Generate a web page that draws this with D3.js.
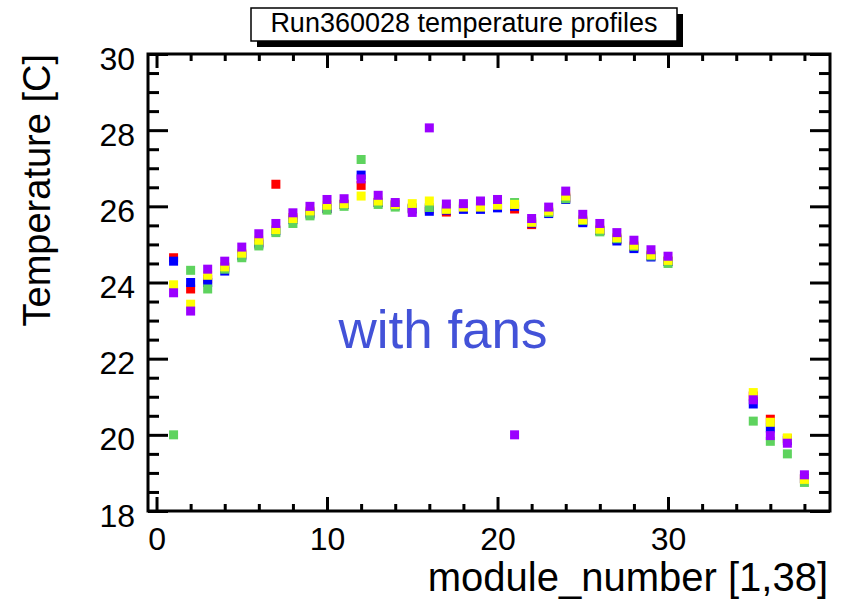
<!DOCTYPE html>
<html>
<head>
<meta charset="utf-8">
<script src="https://cdn.jsdelivr.net/npm/d3@7"></script>
<style>
  body { margin: 0; background: #fff; }
  text { font-family: "Liberation Sans", Arial, sans-serif; }
</style>
</head>
<body>
<div class="chart"></div>
<script>
// modules 31-34 have no readings
var modules = [1, 2, 3, 4, 5, 6, 7, 8, 9, 10, 11, 12, 13, 14, 15, 16, 17, 18, 19, 20,
    21, 22, 23, 24, 25, 26, 27, 28, 29, 30, 35, 36, 37, 38];

var redTemps = [24.65, 23.83, 24.09, 24.40, 24.74, 25.05, 26.58, 25.70, 25.85, 25.94,
    26.05, 26.55, 26.10, 26.05, 25.95, 25.93, 25.85, 25.95, 25.97, 26.00,
    25.93, 25.52, 25.85, 26.22, 25.60, 25.37, 25.13, 24.93, 24.70, 24.56,
    21.02, 20.41, 19.90, 18.85];
var blueTemps = [24.56, 24.00, 24.00, 24.30, 24.70, 25.01, 25.36, 25.65, 25.80, 25.94,
    26.05, 26.82, 26.10, 26.02, 25.93, 25.87, 25.90, 25.92, 25.92, 25.96,
    26.00, 25.56, 25.81, 26.18, 25.57, 25.36, 25.09, 24.89, 24.67, 24.55,
    20.81, 20.18, 19.85, 18.85];
var yellowTemps = [23.94, 23.43, 24.19, 24.41, 24.77, 25.11, 25.39, 25.68, 25.88, 26.03,
    26.07, 26.27, 26.14, 26.05, 26.07, 26.14, 25.92, 25.98, 25.98, 26.03,
    26.05, 25.58, 25.88, 26.27, 25.65, 25.40, 25.18, 24.98, 24.73, 24.58,
    21.11, 20.33, 19.92, 18.83];
var greenTemps = [20.00, 24.32, 23.83, 24.35, 24.65, 24.96, 25.31, 25.55, 25.75, 25.90,
    26.00, 27.23, 26.05, 25.98, 25.96, 25.97, 25.95, 26.00, 26.00, 26.05,
    26.10, 25.60, 25.84, 26.20, 25.63, 25.33, 25.15, 24.95, 24.70, 24.50,
    20.36, 19.83, 19.50, 18.75];
var purpleTemps = [23.73, 23.25, 24.35, 24.56, 24.93, 25.28, 25.55, 25.83, 26.00, 26.18,
    26.20, 26.72, 26.29, 26.10, 25.84, 28.06, 26.06, 26.07, 26.14, 26.18,
    20.00, 25.68, 25.98, 26.40, 25.79, 25.55, 25.31, 25.11, 24.86, 24.69,
    20.92, 19.98, 19.78, 18.95];

var xMajorTicks = [0, 10, 20, 30];
var yMajorTicks = [18, 20, 22, 24, 26, 28, 30];

var titleText = "Run360028 temperature profiles";
var xTitle = "module_number [1,38]";
var yTitle = "Temperature [C]";
var noteText = "with fans";

// drawing order: later series sit on top
var series = [
    { color: "#ff0000", values: redTemps },
    { color: "#0000ff", values: blueTemps },
    { color: "#5ed35e", values: greenTemps },
    { color: "#ffff00", values: yellowTemps },
    { color: "#9b00ff", values: purpleTemps }
];

var svgWidth = 843;
var svgHeight = 600;

var frame = { left: 148, right: 830, top: 54, bottom: 511 };

var svg = d3.select(".chart")
    .append("svg")
    .attr("width", svgWidth)
    .attr("height", svgHeight);

var x = d3.scaleLinear()
    .domain([-0.5, 39.5])
    .range([frame.left, frame.right]);

var y = d3.scaleLinear()
    .domain([18, 30])
    .range([frame.bottom, frame.top]);

// minor tick positions
var xMinor = d3.range(0, 39, 2).filter(d => xMajorTicks.indexOf(d) < 0);
var yMinor = d3.range(18, 30.01, 0.5).filter(d => yMajorTicks.indexOf(d) < 0);

function styleAxis(g) {
    g.select(".domain").remove();
    g.selectAll("line").attr("stroke", "#000").attr("stroke-width", 3);
    g.selectAll("text")
        .attr("fill", "#000")
        .style("font-size", "32px");
}

// bottom axis with labels
svg.append("g")
    .attr("transform", `translate(0,${frame.bottom})`)
    .call(d3.axisBottom(x).tickValues(xMajorTicks).tickSize(-14).tickPadding(16).tickFormat(d3.format("d")))
    .call(styleAxis);
svg.append("g")
    .attr("transform", `translate(0,${frame.bottom})`)
    .call(d3.axisBottom(x).tickValues(xMinor).tickSize(-7).tickFormat(""))
    .call(styleAxis);

// top axis, ticks only
svg.append("g")
    .attr("transform", `translate(0,${frame.top})`)
    .call(d3.axisTop(x).tickValues(xMajorTicks).tickSize(-14).tickFormat(""))
    .call(styleAxis);
svg.append("g")
    .attr("transform", `translate(0,${frame.top})`)
    .call(d3.axisTop(x).tickValues(xMinor).tickSize(-7).tickFormat(""))
    .call(styleAxis);

// left axis with labels
var leftAxis = svg.append("g")
    .attr("transform", `translate(${frame.left},0)`)
    .call(d3.axisLeft(y).tickValues(yMajorTicks).tickSize(-20).tickPadding(13).tickFormat(d3.format("d")))
    .call(styleAxis);
leftAxis.selectAll("text").attr("dy", "0.47em");
svg.append("g")
    .attr("transform", `translate(${frame.left},0)`)
    .call(d3.axisLeft(y).tickValues(yMinor).tickSize(-11).tickFormat(""))
    .call(styleAxis);

// right axis, ticks only
svg.append("g")
    .attr("transform", `translate(${frame.right},0)`)
    .call(d3.axisRight(y).tickValues(yMajorTicks).tickSize(-20).tickFormat(""))
    .call(styleAxis);
svg.append("g")
    .attr("transform", `translate(${frame.right},0)`)
    .call(d3.axisRight(y).tickValues(yMinor).tickSize(-11).tickFormat(""))
    .call(styleAxis);

// frame
svg.append("rect")
    .attr("x", frame.left)
    .attr("y", frame.top)
    .attr("width", frame.right - frame.left)
    .attr("height", frame.bottom - frame.top)
    .attr("fill", "none")
    .attr("stroke", "#000")
    .attr("stroke-width", 3);

// markers, one group per series
var markerSize = 9;
series.forEach(function (s) {
    svg.append("g")
        .selectAll("rect")
        .data(modules.map((m, i) => ({ m: m, v: s.values[i] })))
        .enter()
        .append("rect")
        .attr("x", d => x(d.m) - markerSize / 2)
        .attr("y", d => y(d.v) - markerSize / 2)
        .attr("width", markerSize)
        .attr("height", markerSize)
        .attr("fill", s.color);
});

// axis titles
svg.append("text")
    .attr("x", 828)
    .attr("y", 591)
    .attr("text-anchor", "end")
    .style("font-size", "40px")
    .text(xTitle);

svg.append("text")
    .attr("transform", "translate(50,54) rotate(-90)")
    .attr("text-anchor", "end")
    .style("font-size", "38px")
    .text(yTitle);

// note inside the frame
svg.append("text")
    .attr("x", 443)
    .attr("y", 348)
    .attr("text-anchor", "middle")
    .attr("fill", "#4352d8")
    .style("font-size", "53px")
    .text(noteText);

// title box with drop shadow
svg.append("rect")
    .attr("x", 257).attr("y", 14)
    .attr("width", 426).attr("height", 33)
    .attr("fill", "#000");
svg.append("rect")
    .attr("x", 251).attr("y", 8)
    .attr("width", 426).attr("height", 33)
    .attr("fill", "#fff")
    .attr("stroke", "#000")
    .attr("stroke-width", 1.5);
svg.append("text")
    .attr("x", 464)
    .attr("y", 32)
    .attr("text-anchor", "middle")
    .style("font-size", "27px")
    .text(titleText);
</script>
</body>
</html>
